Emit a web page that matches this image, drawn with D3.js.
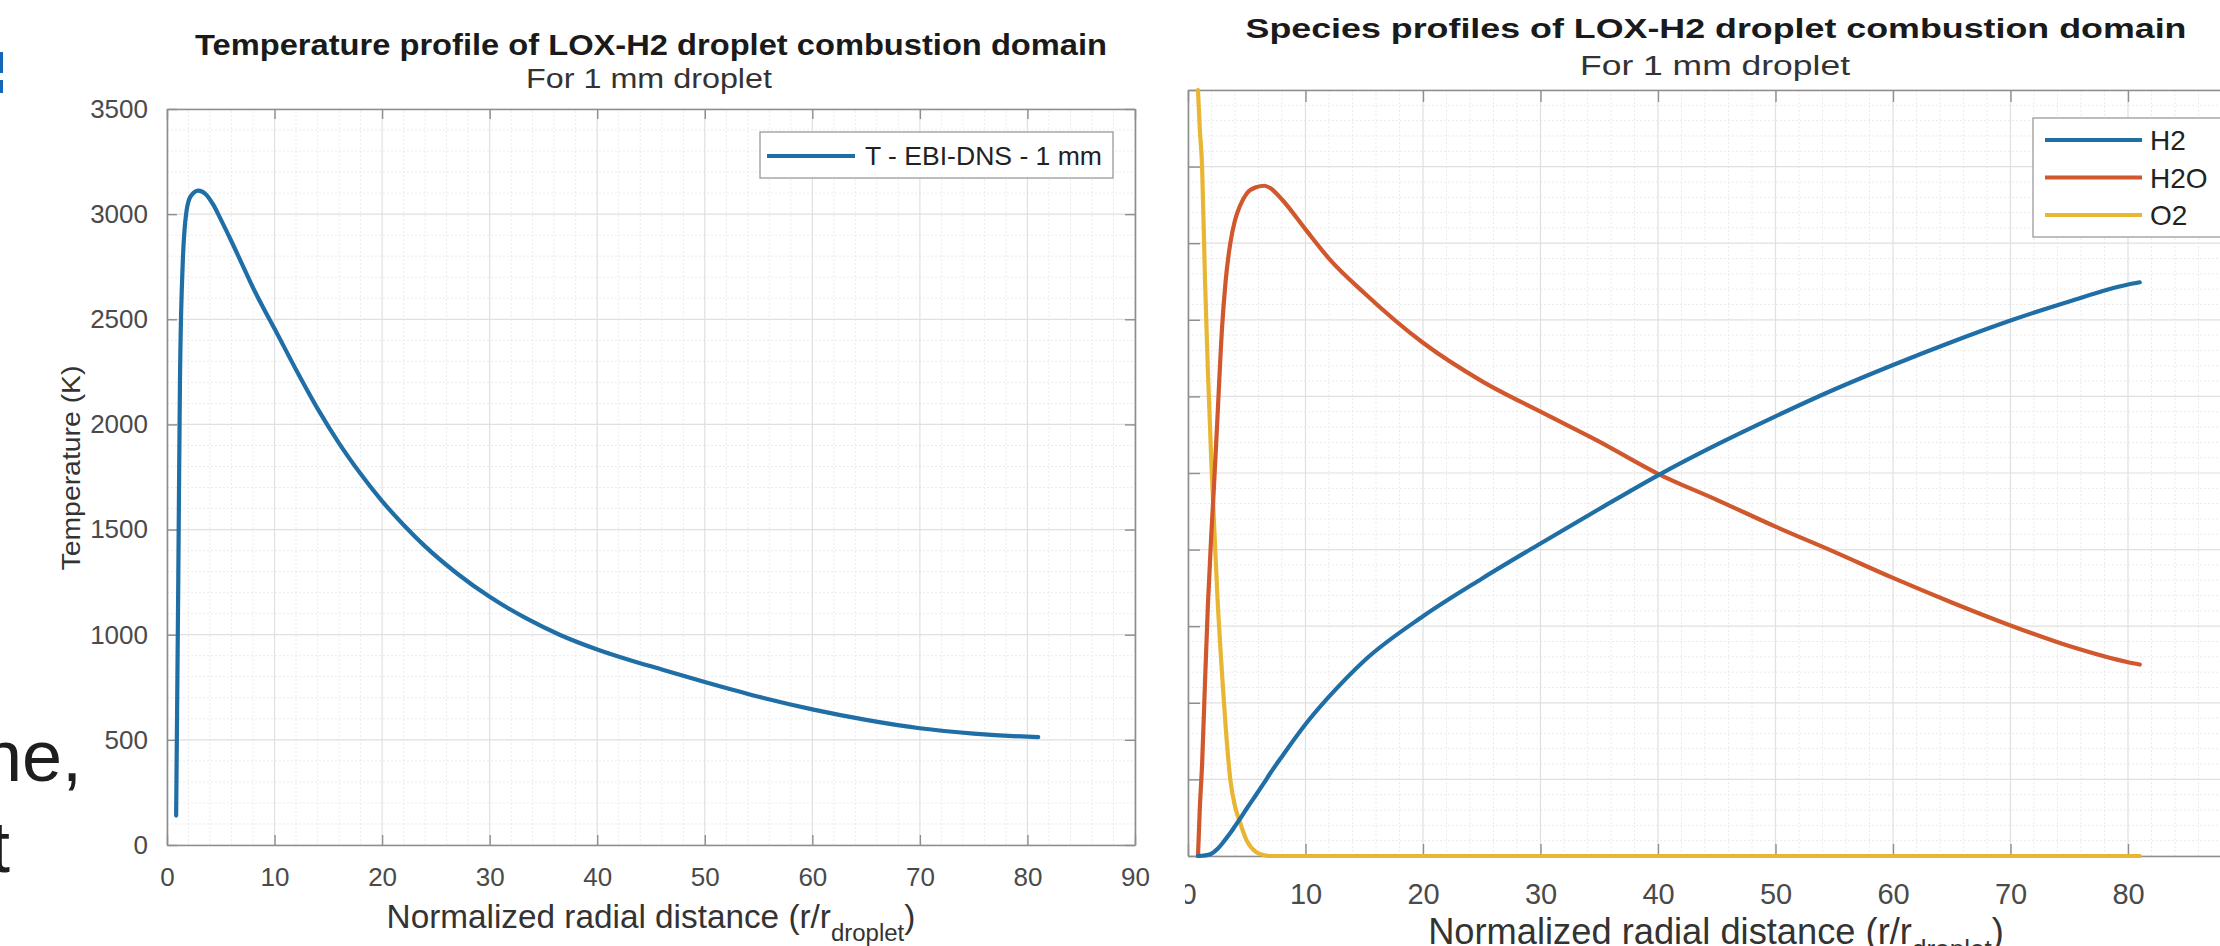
<!DOCTYPE html>
<html><head><meta charset="utf-8">
<script src="https://cdn.jsdelivr.net/npm/d3@7"></script>
<style>
body{margin:0;background:#fff}
svg{display:block}
text{font-family:"Liberation Sans",Arial,Helvetica,sans-serif}
</style>
</head><body>
<svg id="c" width="2220" height="946"></svg>
<script>
// ---------------- data ----------------
const tempX = [0.85,0.95,1.05,1.2,1.45,1.8,2.2,2.9,3.6,4.3,5,6,7,8,9,10,12,14,16,18,20,22,24,27,30,33.5,36.5,40,43,46,50,55,60,65,70,75,80,81];
const tempY = [140,700,1270,2180,2750,3010,3085,3112,3095,3045,2975,2870,2760,2650,2550,2455,2260,2075,1910,1765,1635,1522,1420,1290,1180,1075,1000,930,880,835,775,705,645,595,555,530,515,513];

const specX   = [0.85,1.0,1.2,1.45,1.7,2.0,2.2,2.5,2.9,3.2,3.6,4.0,4.4,5.0,5.8,6.5,7,8,10,12,15,20,25,30,35,40,45,50,55,60,65,70,75,80,81];
const h2Y     = [0,0.0001,0.0003,0.0008,0.0015,0.003,0.005,0.009,0.016,0.022,0.03,0.039,0.048,0.062,0.08,0.096,0.108,0.13,0.172,0.208,0.255,0.313,0.362,0.408,0.453,0.497,0.537,0.574,0.609,0.641,0.671,0.699,0.724,0.746,0.749];
const h2oY    = [0,0.06,0.12,0.228,0.33,0.424,0.48,0.57,0.69,0.75,0.80,0.83,0.848,0.865,0.873,0.875,0.872,0.857,0.818,0.78,0.735,0.67,0.62,0.58,0.541,0.499,0.465,0.43,0.397,0.363,0.331,0.301,0.274,0.253,0.25];
const o2Y     = [1.0,0.95,0.9,0.75,0.63,0.51,0.44,0.34,0.237,0.17,0.10,0.065,0.045,0.02,0.005,0.001,0,0,0,0,0,0,0,0,0,0,0,0,0,0,0,0,0,0,0];

const xTicksL = [0,10,20,30,40,50,60,70,80,90];
const yTicksL = [0,500,1000,1500,2000,2500,3000,3500];
const xTicksR = [0,10,20,30,40,50,60,70,80,90];
const yTicksR = [0,0.1,0.2,0.3,0.4,0.5,0.6,0.7,0.8,0.9,1];

const titleL = "Temperature profile of LOX-H2 droplet combustion domain";
const titleR = "Species profiles of LOX-H2 droplet combustion domain";
const subTitle = "For 1 mm droplet";
const yLabelL = "Temperature (K)";
const legendL = ["T - EBI-DNS - 1 mm"];
const legendR = ["H2","H2O","O2"];

const colBlue = "#1f6ea6", colRed = "#d0582c", colYel = "#e9b634";

// ---------------- drawing ----------------
const svg = d3.select("#c");
svg.append("rect").attr("width",2220).attr("height",946).attr("fill","#fff");

// slide text fragments on the far left
svg.append("text").attr("x",82).attr("y",781).attr("text-anchor","end")
  .attr("font-size",72).attr("fill","#1e1e1e").text("ne,");
svg.append("text").attr("x",10).attr("y",872).attr("text-anchor","end")
  .attr("font-size",72).attr("fill","#1e1e1e").text("t");
svg.append("rect").attr("x",0).attr("y",52).attr("width",3).attr("height",21).attr("fill","#1565b8");
svg.append("rect").attr("x",0).attr("y",80).attr("width",3).attr("height",13).attr("fill","#1565b8");

function stretch(sel, target){
  sel.attr("textLength", target).attr("lengthAdjust","spacingAndGlyphs");
}
function fitText(sel, target){
  const len = sel.node().getComputedTextLength();
  const fs = parseFloat(sel.attr("font-size"));
  sel.attr("font-size", fs*target/len);
}

function panel(g, x, y, o){
  const [x0,x1] = x.range(), [y0,y1] = y.range();
  const xd = x.domain(), yd = y.domain();
  const xm = d3.range(xd[0], xd[1]+1e-9, o.xMinor).filter(v=>Math.abs(v/o.xMajor-Math.round(v/o.xMajor))>1e-6);
  const ym = d3.range(yd[0], yd[1]+1e-9, o.yMinor).filter(v=>Math.abs(v/o.yMajor-Math.round(v/o.yMajor))>1e-6);
  const grid = g.append("g");
  grid.selectAll(".xm").data(xm).join("line")
    .attr("x1",d=>x(d)).attr("x2",d=>x(d)).attr("y1",y0).attr("y2",y1)
    .attr("stroke","#ebebeb").attr("stroke-width",1).attr("stroke-dasharray","2,2");
  grid.selectAll(".ym").data(ym).join("line")
    .attr("y1",d=>y(d)).attr("y2",d=>y(d)).attr("x1",x0).attr("x2",x1)
    .attr("stroke","#ebebeb").attr("stroke-width",1).attr("stroke-dasharray","2,2");
  grid.selectAll(".xM").data(o.xTicks).join("line")
    .attr("x1",d=>x(d)).attr("x2",d=>x(d)).attr("y1",y0).attr("y2",y1)
    .attr("stroke","#e0e0e0").attr("stroke-width",1.2);
  grid.selectAll(".yM").data(o.yTicks).join("line")
    .attr("y1",d=>y(d)).attr("y2",d=>y(d)).attr("x1",x0).attr("x2",x1)
    .attr("stroke","#e0e0e0").attr("stroke-width",1.2);

  const styleAxis = a => {
    a.selectAll(".domain").attr("stroke","#8e8e8e").attr("stroke-width",1.6);
    a.selectAll(".tick line").attr("stroke","#8e8e8e").attr("stroke-width",1.4);
    a.selectAll(".tick text").attr("fill","#4a4a4a").attr("font-size",o.fs).attr("font-family",null);
  };
  const ax = g.append("g").attr("transform",`translate(0,${y0})`)
    .call(d3.axisBottom(x).tickValues(o.xTicks).tickSizeInner(-o.tl).tickSizeOuter(0).tickPadding(o.xPad));
  styleAxis(ax);
  const at = g.append("g").attr("transform",`translate(0,${y1})`)
    .call(d3.axisTop(x).tickValues(o.xTicks).tickSizeInner(-o.tl).tickSizeOuter(0).tickFormat(""));
  styleAxis(at);
  const ay = g.append("g").attr("transform",`translate(${x0},0)`)
    .call(d3.axisLeft(y).tickValues(o.yTicks).tickSizeInner(-o.tl).tickSizeOuter(0).tickPadding(o.yPad).tickFormat(o.yFmt));
  styleAxis(ay);
  const ar = g.append("g").attr("transform",`translate(${x1},0)`)
    .call(d3.axisRight(y).tickValues(o.yTicks).tickSizeInner(-o.tl).tickSizeOuter(0).tickFormat(""));
  styleAxis(ar);
}

// ---------- left panel ----------
const xL = d3.scaleLinear([0,90],[167,1135]);
const yL = d3.scaleLinear([0,3500],[845,109]);
const gL = svg.append("g");
panel(gL, xL, yL, {xMinor:2, xMajor:10, yMinor:100, yMajor:500, xTicks:xTicksL, yTicks:yTicksL,
  tl:10, fs:26, xPad:23, yPad:19, yFmt:d3.format("d")});

const lineL = d3.line().x((d,i)=>xL(tempX[i])).y(d=>yL(d)).curve(d3.curveMonotoneX);
gL.append("path").datum(tempY).attr("d",lineL).attr("fill","none")
  .attr("stroke",colBlue).attr("stroke-width",4.2).attr("stroke-linejoin","round").attr("stroke-linecap","round");

let t = gL.append("text").attr("x",651).attr("y",55).attr("text-anchor","middle")
  .attr("font-size",29).attr("font-weight","bold").attr("fill","#1a1a1a").text(titleL);
stretch(t, 912);
t = gL.append("text").attr("x",649).attr("y",88).attr("text-anchor","middle")
  .attr("font-size",27).attr("fill","#333").text(subTitle);
stretch(t, 246);
t = gL.append("text").attr("transform","translate(80,468) rotate(-90)").attr("text-anchor","middle")
  .attr("font-size",26).attr("fill","#333").text(yLabelL);
stretch(t, 205);
t = gL.append("text").attr("x",651).attr("y",928).attr("text-anchor","middle")
  .attr("font-size",27).attr("fill","#333");
t.append("tspan").text("Normalized radial distance (r/r");
t.append("tspan").attr("font-size","0.72em").attr("dy",13).text("droplet");
t.append("tspan").attr("dy",-13).text(")");
fitText(t, 529);

// left legend
const lgL = gL.append("g");
lgL.append("rect").attr("x",760).attr("y",132).attr("width",353).attr("height",46)
  .attr("fill","#fff").attr("stroke","#9a9a9a").attr("stroke-width",1.3);
legendL.forEach((name,i)=>{
  const yy = 156 + i*37;
  lgL.append("line").attr("x1",767).attr("x2",855).attr("y1",yy).attr("y2",yy)
    .attr("stroke",colBlue).attr("stroke-width",4.2);
  const tt = lgL.append("text").attr("x",865).attr("y",yy+9).attr("font-size",26).attr("fill","#222").text(name);
  stretch(tt, 237);
});

// ---------- right panel ----------
const defs = svg.append("defs");
defs.append("clipPath").attr("id","clipR")
  .append("rect").attr("x",1185).attr("y",0).attr("width",1100).attr("height",946);
defs.append("clipPath").attr("id","plotR")
  .append("rect").attr("x",1188).attr("y",86).attr("width",1060).attr("height",772);

const xR = d3.scaleLinear([0,90],[1188,2245.5]);
const yR = d3.scaleLinear([0,1],[856,90]);
const gR = svg.append("g").attr("clip-path","url(#clipR)");
// y tick labels of this panel are cropped away in the reference image
panel(gR, xR, yR, {xMinor:2, xMajor:10, yMinor:0.02, yMajor:0.1, xTicks:xTicksR, yTicks:yTicksR,
  tl:12, fs:29, xPad:27, yPad:20, yFmt:()=>""});

const series = [
  {name:legendR[0], values:h2Y,  color:colBlue},
  {name:legendR[1], values:h2oY, color:colRed},
  {name:legendR[2], values:o2Y,  color:colYel}
];
const lineR = d3.line().x((d,i)=>xR(specX[i])).y(d=>yR(d)).curve(d3.curveMonotoneX);
const gLines = gR.append("g").attr("clip-path","url(#plotR)");
series.slice().reverse().forEach(s=>{
  gLines.append("path").datum(s.values).attr("d",lineR).attr("fill","none")
    .attr("stroke",s.color).attr("stroke-width",4.2).attr("stroke-linejoin","round").attr("stroke-linecap","round");
});

t = gR.append("text").attr("x",1716).attr("y",38).attr("text-anchor","middle")
  .attr("font-size",27).attr("font-weight","bold").attr("fill","#1a1a1a").text(titleR);
stretch(t, 941);
t = gR.append("text").attr("x",1715).attr("y",75).attr("text-anchor","middle")
  .attr("font-size",27).attr("fill","#333").text(subTitle);
stretch(t, 270);
t = gR.append("text").attr("x",1716).attr("y",944).attr("text-anchor","middle")
  .attr("font-size",29).attr("fill","#333");
t.append("tspan").text("Normalized radial distance (r/r");
t.append("tspan").attr("font-size","0.72em").attr("dy",14).text("droplet");
t.append("tspan").attr("dy",-14).text(")");
fitText(t, 576);

// right legend
const lgR = gR.append("g");
lgR.append("rect").attr("x",2033).attr("y",118).attr("width",220).attr("height",119)
  .attr("fill","#fff").attr("stroke","#9a9a9a").attr("stroke-width",1.3);
series.forEach((s,i)=>{
  const yy = 140 + i*37.5;
  lgR.append("line").attr("x1",2045).attr("x2",2142).attr("y1",yy).attr("y2",yy)
    .attr("stroke",s.color).attr("stroke-width",4.2);
  lgR.append("text").attr("x",2150).attr("y",yy+10).attr("font-size",28).attr("fill","#222").text(s.name);
});
</script>
</body></html>
